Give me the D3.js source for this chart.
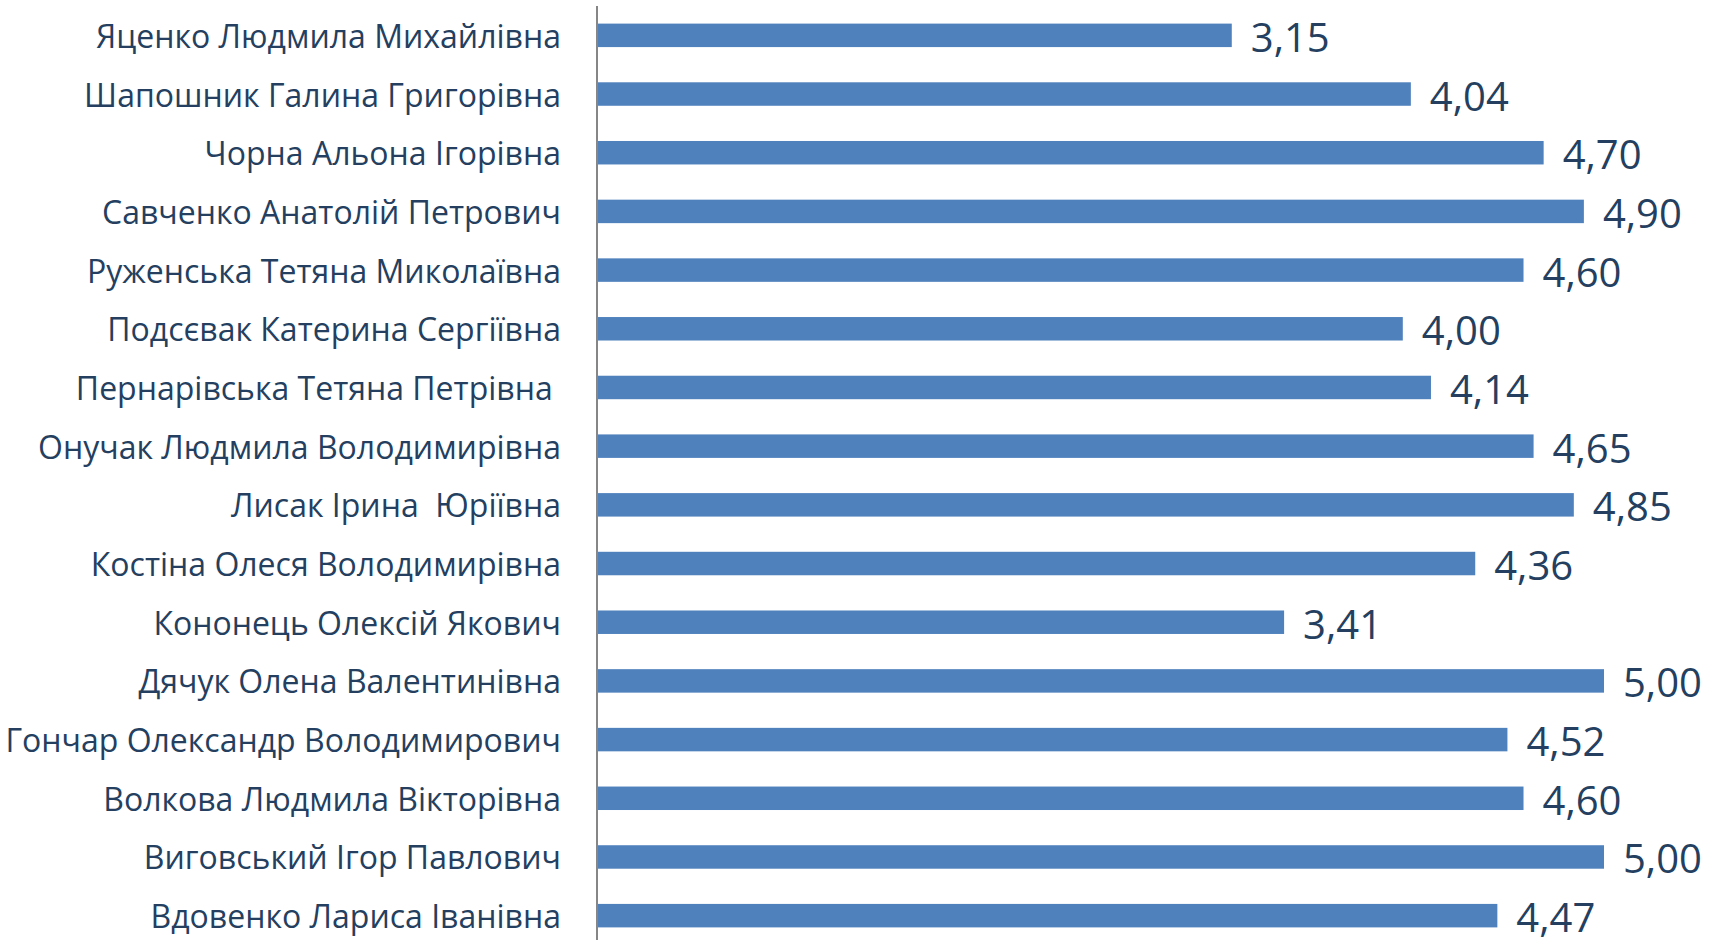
<!DOCTYPE html>
<meta charset="utf-8">
<script src="https://d3js.org/d3.v7.min.js"></script>
<style>
  body { margin: 0; background: #fff; }
  text { font-family: "Open Sans", sans-serif; fill: #243f60; white-space: pre; }
</style>
<div id="my_dataviz"></div>
<script>
    // names top to bottom, as in the picture
    const names = [
        "Яценко Людмила Михайлівна",
        "Шапошник Галина Григорівна",
        "Чорна Альона Ігорівна",
        "Савченко Анатолій Петрович",
        "Руженська Тетяна Миколаївна",
        "Подсєвак Катерина Сергіївна",
        "Пернарівська Тетяна Петрівна ",
        "Онучак Людмила Володимирівна",
        "Лисак Ірина  Юріївна",
        "Костіна Олеся Володимирівна",
        "Кононець Олексій Якович",
        "Дячук Олена Валентинівна",
        "Гончар Олександр Володимирович",
        "Волкова Людмила Вікторівна",
        "Виговський Ігор Павлович",
        "Вдовенко Лариса Іванівна"
    ];
    const scores = [3.15, 4.04, 4.70, 4.90, 4.60, 4.00, 4.14, 4.65, 4.85, 4.36, 3.41, 5.00, 4.52, 4.60, 5.00, 4.47];
    const xDomain = [0, 5];

    const width = 1710, height = 940;

    const svg = d3.select("#my_dataviz")
        .append("svg")
            .attr("width", width)
            .attr("height", height);

    const x = d3.scaleLinear()
        .domain(xDomain)
        .range([598, 1604]);

    const y = d3.scaleBand()
        .domain(names)
        .range([6, 945])
        .paddingInner(0.6)
        .paddingOuter(0.3);

    const data = names.map((n, i) => ({name: n, value: scores[i]}));

    // bars
    svg.append("g")
        .selectAll("rect")
        .data(data)
        .join("rect")
            .attr("x", x(0))
            .attr("y", d => y(d.name))
            .attr("width", d => x(d.value) - x(0))
            .attr("height", y.bandwidth())
            .style("fill", "#4f81bd");

    // value labels
    svg.append("g")
        .selectAll("text")
        .data(data)
        .join("text")
            .attr("x", d => x(d.value) + 19)
            .attr("y", d => y(d.name) + y.bandwidth() / 2 + 1)
            .attr("dominant-baseline", "central")
            .style("font-size", "40px")
            .text(d => d.value.toFixed(2).replace(".", ","));

    // category axis
    const yAxis = svg.append("g")
        .attr("transform", "translate(597,0)")
        .call(d3.axisLeft(y).tickSize(0).tickPadding(36));
    yAxis.select(".domain")
        .attr("d", "M0,6V" + height)
        .attr("stroke", "#868686")
        .attr("stroke-width", 2);
    yAxis.selectAll("text")
        .attr("font-family", null)
        .attr("dy", null)
        .attr("dominant-baseline", "central")
        .style("font-size", "32px")
        .style("fill", "#243f60");
</script>
